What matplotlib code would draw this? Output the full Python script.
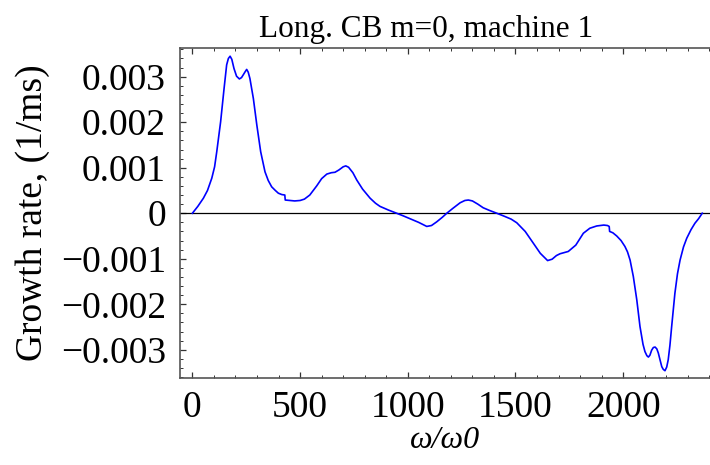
import matplotlib
matplotlib.use('agg')
import matplotlib.pyplot as plt
from matplotlib.ticker import MultipleLocator

plt.rcParams['font.family'] = ['Liberation Serif', 'DejaVu Serif']

# omega/omega0 values
omega = [0, 25, 51, 70, 90, 103, 113, 131, 147, 159, 167, 175, 183, 193, 205,
         218, 228, 236, 245, 252, 259, 267, 283, 299, 317, 337, 352, 368, 385,
         399, 415, 429, 431, 453, 475, 500, 520, 545, 577, 600, 624, 645, 662,
         680, 700, 712, 725, 745, 763, 790, 825, 850, 871, 910, 948, 980, 1010,
         1050, 1088, 1110, 1134, 1160, 1181, 1210, 1243, 1265, 1281, 1300, 1325,
         1350, 1380, 1413, 1450, 1480, 1506, 1545, 1583, 1615, 1649, 1670, 1690,
         1707, 1745, 1780, 1815, 1845, 1877, 1910, 1927, 1935, 1937, 1952, 1970,
         1990, 2008, 2020, 2032, 2047, 2063, 2078, 2092, 2101, 2110, 2117, 2124,
         2132, 2140, 2148, 2156, 2163, 2172, 2179, 2186, 2194, 2202, 2209, 2217,
         2225, 2240, 2252, 2264, 2280, 2295, 2315, 2333, 2350, 2367]
# growth rate in 1/ms
growth = [0, 0.00015, 0.00033, 0.00050, 0.00077, 0.00102, 0.00135, 0.00201,
          0.00274, 0.00326, 0.00340, 0.00345, 0.00338, 0.00318, 0.00301,
          0.00295, 0.00298, 0.00304, 0.00311, 0.00316, 0.00310, 0.00296,
          0.00252, 0.00194, 0.00135, 0.00091, 0.00072, 0.00058, 0.00050,
          0.00044, 0.00041, 0.00040, 0.00029, 0.00028, 0.00027, 0.00028,
          0.00031, 0.00040, 0.00060, 0.00076, 0.00086, 0.00089, 0.00090,
          0.00095, 0.00102, 0.00104, 0.00101, 0.00089, 0.00073, 0.00053,
          0.00033, 0.00022, 0.00015, 0.00007, 0, -0.00006, -0.00012, -0.00020,
          -0.00029, -0.00027, -0.00019, -0.00009, 0, 0.00011, 0.00023, 0.00028,
          0.00029, 0.00027, 0.00020, 0.00012, 0.00006, 0, -0.00007, -0.00013,
          -0.00021, -0.00040, -0.00066, -0.00088, -0.00104, -0.00101, -0.00093,
          -0.00089, -0.00084, -0.00070, -0.00044, -0.00033, -0.00028, -0.00026,
          -0.00027, -0.00029, -0.00040, -0.00043, -0.00050, -0.00060, -0.00073,
          -0.00085, -0.00103, -0.00139, -0.00190, -0.00249, -0.00288, -0.00304,
          -0.00313, -0.00316, -0.00312, -0.00301, -0.00295, -0.00294, -0.00298,
          -0.00307, -0.00324, -0.00337, -0.00343, -0.00346, -0.00338, -0.00322,
          -0.00290, -0.00249, -0.00176, -0.00133, -0.00103, -0.00074, -0.00055,
          -0.00036, -0.00022, -0.00012, 0]

yticks = [-0.003, -0.002, -0.001, 0, 0.001, 0.002, 0.003]
ytick_labels = ['\u22120.003', '\u22120.002', '\u22120.001', '0', '0.001', '0.002', '0.003']
xticks = [0, 500, 1000, 1500, 2000]
xtick_labels = ['0', '500', '1000', '1500', '2000']

fig = plt.figure(figsize=(7.1, 4.65), dpi=100)
ax = fig.add_axes([180 / 710, 1 - 378 / 465, 1 - 180 / 710, (378 - 48) / 465])

ax.axhline(0, color='black', lw=0.9)
ax.plot(omega, growth, color='#0000ff', lw=1.2)

ax.set_xlim(-57.6, 2403)
ax.set_ylim(-0.00362, 0.00363)

ax.set_xticks(xticks)
ax.set_xticklabels(xtick_labels)
ax.set_yticks(yticks)
ax.set_yticklabels(ytick_labels)
ax.xaxis.set_minor_locator(MultipleLocator(100))
ax.yaxis.set_minor_locator(MultipleLocator(0.0002))

ax.tick_params(which='both', direction='in', top=True, right=False,
               labelsize=27, color='#333333')
ax.tick_params(which='major', length=4.5, width=0.9)
ax.tick_params(which='minor', length=2.2, width=0.7)
ax.tick_params(axis='x', pad=9)
ax.tick_params(axis='y', pad=10)

for side in ['left', 'bottom', 'top']:
    ax.spines[side].set_color('#555555')
    ax.spines[side].set_linewidth(1.2)
ax.spines['right'].set_visible(False)

ax.set_title('Long. CB m=0, machine 1', fontsize=22.5, pad=8, x=0.465)
ax.set_ylabel('Growth rate, (1/ms)', fontsize=27, labelpad=8)
# in the original the x label is half cut off at the bottom edge; keep it just inside
ax.set_xlabel('\u03c9/\u03c90', fontsize=23, style='italic', labelpad=1)

fig.savefig('out.png', dpi=100)
